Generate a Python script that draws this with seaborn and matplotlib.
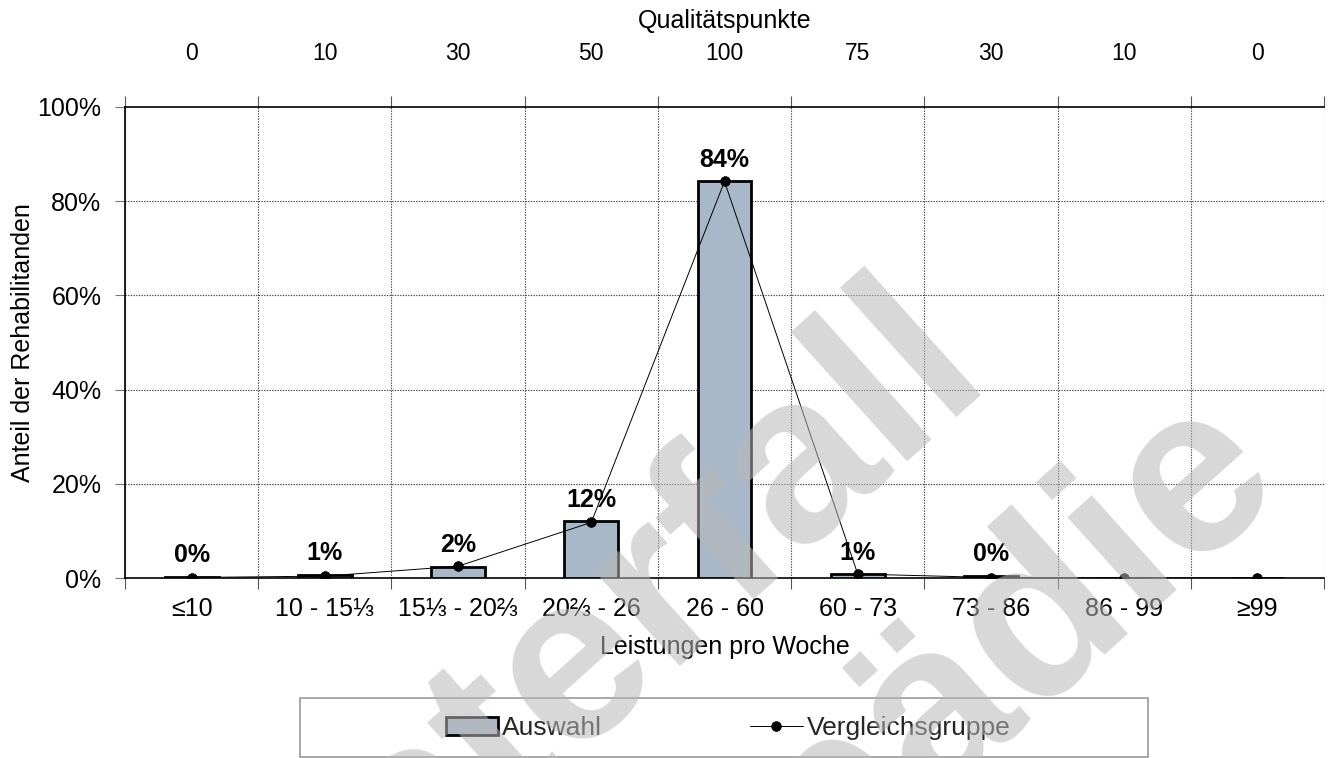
import matplotlib
matplotlib.use("Agg")
import matplotlib.pyplot as plt
from matplotlib.patches import Rectangle
from matplotlib.ticker import FixedLocator, PercentFormatter
import seaborn as sns
import pandas as pd

# Weekly service bands and their quality points
categories = ["≤10", "10 - 15⅓", "15⅓ - 20⅔", "20⅔ - 26", "26 - 60",
              "60 - 73", "73 - 86", "86 - 99", "≥99"]
quality_points = ["0", "10", "30", "50", "100", "75", "30", "10", "0"]

# Share of patients (percent)
auswahl = [0.3, 0.6, 2.3, 12.0, 84.2, 0.8, 0.4, 0.0, 0.0]
vergleichsgruppe = [0.1, 0.4, 2.5, 11.8, 84.2, 0.85, 0.1, 0.0, 0.0]
series_names = ["Auswahl", "Vergleichsgruppe"]

df = pd.DataFrame({"Band": categories, "Auswahl": auswahl,
                   "Vergleichsgruppe": vergleichsgruppe})

sns.set_theme(style="white")
plt.rcParams["font.family"] = ["Liberation Sans", "DejaVu Sans"]

FS = 18
W, H = 1330, 758
fig = plt.figure(figsize=(W / 100, H / 100), dpi=100)
ax = fig.add_axes([125 / W, 1 - 578 / H, 1199 / W, 471 / H])

sns.barplot(data=df, x="Band", y="Auswahl", order=categories, color="#A9B8C8",
            saturation=1, width=0.405, edgecolor="black", linewidth=2,
            ax=ax, zorder=3, label=series_names[0])
sns.pointplot(data=df, x="Band", y="Vergleichsgruppe", order=categories,
              color="black", markers="o", linestyles="-", linewidth=0.7,
              markersize=7, ax=ax, zorder=4, label=series_names[1])
if ax.get_legend() is not None:
    ax.get_legend().remove()

# Value labels above the bars
for i, v in enumerate(auswahl):
    if v > 0:
        ax.annotate(f"{v:.0f}%", (i, v), xytext=(0, 7), textcoords="offset points",
                    ha="center", va="bottom", fontsize=FS, fontweight="bold",
                    color="black", zorder=6)

ax.set_xlim(-0.5, len(categories) - 0.5)
ax.set_ylim(0, 100)
ax.yaxis.set_major_locator(FixedLocator([0, 20, 40, 60, 80, 100]))
ax.yaxis.set_major_formatter(PercentFormatter(decimals=0))

bounds = [i - 0.5 for i in range(len(categories) + 1)]
ax.xaxis.set_minor_locator(FixedLocator(bounds))
ax.tick_params(axis="x", which="major", length=0, pad=14, labelsize=FS,
               labelcolor="black")
ax.tick_params(axis="x", which="minor", length=8, width=0.8, color="#555555",
               direction="out", bottom=True)
ax.tick_params(axis="y", which="major", length=7, width=0.8, color="#777777",
               direction="out", left=True, pad=10, labelsize=FS,
               labelcolor="black")

ax.grid(False)
ax.grid(axis="x", which="minor", linestyle=(0, (1.2, 1.2)), linewidth=0.8,
        color="#444444", zorder=1)
for y in [20, 40, 60, 80]:
    ax.axhline(y, linestyle=(0, (1.2, 1.2)), linewidth=0.8, color="#444444",
               zorder=1)

for side in ["left", "bottom", "top"]:
    ax.spines[side].set_visible(True)
    ax.spines[side].set_color("black")
    ax.spines[side].set_linewidth(1.2)
ax.spines["right"].set_visible(False)

ax.set_xlabel("Leistungen pro Woche", fontsize=FS, labelpad=10, color="black")
ax.set_ylabel("Anteil der Rehabilitanden", fontsize=FS, color="black")
ax.yaxis.set_label_coords((35 - 125) / 1199, 0.5)

# Quality points on the top axis
top = ax.secondary_xaxis("top")
top.set_xticks(range(len(categories)))
top.set_xticklabels(quality_points)
top.xaxis.set_minor_locator(FixedLocator(bounds))
top.tick_params(axis="x", which="major", length=0, pad=30, labelsize=16.5,
                labelcolor="black")
top.tick_params(axis="x", which="minor", length=8, width=0.8, color="#555555",
                direction="out", top=True)
top.spines["top"].set_visible(False)
top.set_xlabel("Qualitätspunkte", fontsize=FS, labelpad=10, color="black")

# Legend below the chart with its own frame
fig.add_artist(Rectangle((300 / W, 1 - 757 / H), 848 / W, 59 / H,
                         transform=fig.transFigure, facecolor="white",
                         edgecolor="#9a9a9a", linewidth=1.2, zorder=5))
handles, labels = ax.get_legend_handles_labels()
by_label = dict(zip(labels, handles))
leg = fig.legend([by_label[n] for n in series_names], series_names,
                 loc="center", bbox_to_anchor=(728 / W, 1 - 728 / H),
                 ncol=2, fontsize=19, frameon=False, borderpad=0,
                 handlelength=2.0, handletextpad=0.15, columnspacing=5.6)
leg.set_zorder(6)

# Watermark
wm = dict(fontsize=172, fontweight="bold", color="#b8b8b8", alpha=0.55,
          rotation=42, ha="center", va="center", rotation_mode="anchor",
          zorder=20)
fig.text(529 / W, 1 - 704 / H, "Musterfall", **wm)
fig.text(772 / W, 1 - 863 / H, "Orthopädie", **wm)

fig.savefig("out.png", dpi=100)
